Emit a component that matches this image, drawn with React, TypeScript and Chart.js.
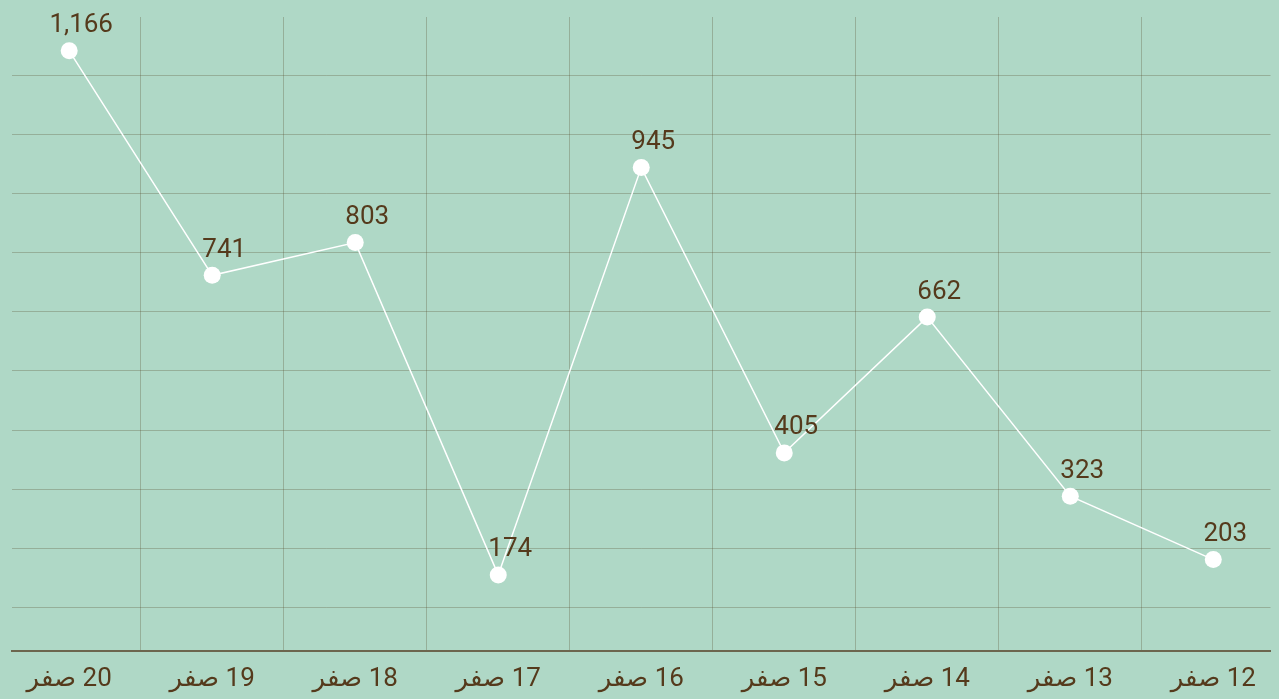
import { useEffect, useRef } from "react";
import { Chart, registerables } from "chart.js";

Chart.register(...registerables);

// Days of Safar, chronological; the x axis is reversed so the story reads right-to-left.
const days = [
  "12 صفر",
  "13 صفر",
  "14 صفر",
  "15 صفر",
  "16 صفر",
  "17 صفر",
  "18 صفر",
  "19 صفر",
  "20 صفر",
];
const counts = [203, 323, 662, 405, 945, 174, 803, 741, 1166];

const BG = "#afd8c6";
const GRID = "rgba(90, 80, 50, 0.3)";
const AXIS = "#6c664e";
const TEXT = "#553a1c";
const FONT = "Roboto, 'Noto Sans', 'DejaVu Sans', sans-serif";
const RLM = "\u200F";

// Writes each day's count just above and to the right of its point.
const valueLabels = {
  id: "valueLabels",
  afterDatasetsDraw(chart: any) {
    const { ctx } = chart;
    const meta = chart.getDatasetMeta(0);
    ctx.save();
    ctx.font = `26px ${FONT}`;
    ctx.fillStyle = TEXT;
    ctx.textAlign = "center";
    ctx.textBaseline = "bottom";
    meta.data.forEach((pt: any, i: number) => {
      ctx.fillText(counts[i].toLocaleString("en-US"), pt.x + 12, pt.y - 12);
    });
    ctx.restore();
  },
};

export default function App() {
  const canvasRef = useRef<HTMLCanvasElement | null>(null);

  useEffect(() => {
    if (!canvasRef.current) return;
    const chart = new Chart(canvasRef.current, {
      type: "line",
      data: {
        datasets: [
          {
            data: counts.map((y, i) => ({ x: i, y })),
            borderColor: "#ffffff",
            borderWidth: 1.5,
            pointRadius: 8.5,
            pointHoverRadius: 8.5,
            pointBackgroundColor: "#ffffff",
            pointBorderWidth: 0,
            tension: 0,
          },
        ],
      },
      options: {
        responsive: true,
        maintainAspectRatio: false,
        animation: false,
        events: [],
        layout: { padding: { left: 12, top: 17, right: 0, bottom: 0 } },
        plugins: {
          legend: { display: false },
          tooltip: { enabled: false },
        },
        scales: {
          x: {
            type: "linear",
            reverse: true,
            min: -0.4,
            max: days.length - 1 + 0.4,
            afterBuildTicks: (scale: any) => {
              const ticks: { value: number }[] = [];
              days.forEach((_, i) => {
                ticks.push({ value: i });
                if (i < days.length - 1) ticks.push({ value: i + 0.5 });
              });
              scale.ticks = ticks;
            },
            ticks: {
              autoSkip: false,
              maxRotation: 0,
              minRotation: 0,
              padding: 15,
              color: TEXT,
              font: { size: 26, family: FONT, lineHeight: 1 },
              callback: (v: any) => (Number.isInteger(v) ? RLM + days[v] : ""),
            },
            grid: {
              color: (c: any) =>
                c.tick && Number.isInteger(c.tick.value) ? "rgba(0,0,0,0)" : GRID,
              lineWidth: 1,
              drawTicks: false,
            },
            border: { color: AXIS, width: 2 },
          },
          y: {
            min: 30,
            max: 1230,
            ticks: { display: false, stepSize: 112, includeBounds: false },
            grid: { color: GRID, lineWidth: 1, drawTicks: false },
            border: { display: false },
          },
        },
      },
      plugins: [valueLabels],
    });
    return () => chart.destroy();
  }, []);

  return (
    <div
      style={{
        position: "fixed",
        left: 0,
        top: 0,
        width: 1279,
        height: 707,
        background: BG,
      }}
    >
      <canvas ref={canvasRef} />
    </div>
  );
}
